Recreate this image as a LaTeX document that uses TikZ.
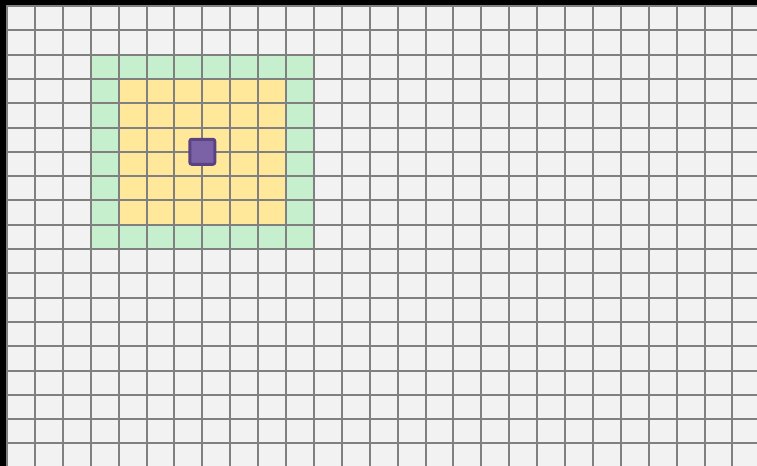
\documentclass[tikz,border=0pt]{standalone}
\usepackage{xcolor}
\definecolor{cellgray}{HTML}{F2F2F2}
\definecolor{linegray}{HTML}{808080}
\definecolor{ringgreen}{HTML}{C6EFCE}
\definecolor{nearyellow}{HTML}{FFE89A}
\definecolor{agentfill}{HTML}{7B61A5}
\definecolor{agentdraw}{HTML}{5A4382}
\tikzset{
    gridline/.style={draw=linegray, line width=2pt},
    agent/.style={draw=agentdraw, fill=agentfill, line width=3pt, rounded corners=2pt,
        minimum size=25pt, inner sep=0pt}
}

\begin{document}
\begin{tikzpicture}[x=27.9pt, y=-24.3pt]
    % frame and background
    \useasboundingbox (-0.2509,-0.2469) rectangle (26.882,18.930);
    \fill[black] (-0.2509,-0.2469) rectangle (26.882,18.930);
    \fill[cellgray] (0,0) rectangle (26.882,18.930);

    % neighbourhood rings
    \fill[ringgreen] (3,2) rectangle (11,10);
    \fill[nearyellow] (4,3) rectangle (10,9);

    % grid lines
    \foreach \i in {0,...,26}
        \draw[gridline] (\i,-0.05) -- (\i,18.930);
    \foreach \j in {0,...,18}
        \draw[gridline] (-0.03,\j) -- (26.882,\j);

    % agent
    \node[agent] (agent) at (7,6) {};
\end{tikzpicture}
\end{document}
